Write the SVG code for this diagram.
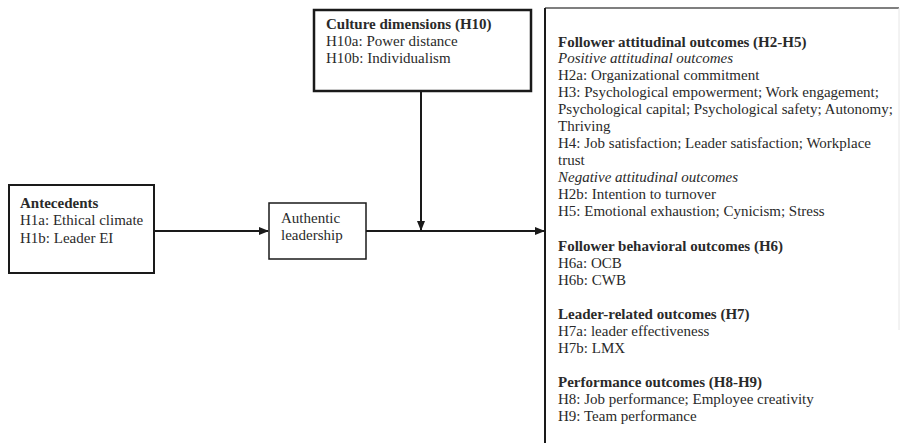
<svg xmlns="http://www.w3.org/2000/svg" width="901" height="443" viewBox="0 0 901 443">
<defs>
<marker id="ah" markerWidth="10" markerHeight="8" refX="9" refY="4" orient="auto" markerUnits="userSpaceOnUse">
<path d="M0,0 L10,4 L0,8 Z" fill="#1a1a1a"/>
</marker>
<style>
text{font-family:"Liberation Serif","Times New Roman",serif;font-size:15px;fill:#2a2a2a}
.b{font-weight:bold}
.i{font-style:italic}
.box{fill:#fff;stroke:#1a1a1a}
.conn{stroke:#1a1a1a;stroke-width:2;fill:none}
</style>
</defs>
<rect width="901" height="443" fill="#fff"/>
<g id="antecedents">
<rect class="box" x="9" y="185" width="145" height="88" stroke-width="2"/>
<text x="20" y="208" class="b">Antecedents</text>
<text x="20" y="225">H1a: Ethical climate</text>
<text x="20" y="243">H1b: Leader EI</text>
</g>
<g id="authentic">
<rect class="box" x="269" y="203" width="97" height="56" stroke-width="1.5"/>
<text x="281" y="223">Authentic</text>
<text x="281" y="240">leadership</text>
</g>
<g id="culture">
<rect class="box" x="314" y="10" width="217" height="81" stroke-width="2.5"/>
<text x="326" y="29" class="b">Culture dimensions (H10)</text>
<text x="326" y="46">H10a: Power distance</text>
<text x="326" y="63">H10b: Individualism</text>
</g>
<g id="outcomes">
<line x1="545" y1="8" x2="899" y2="8" stroke="#555" stroke-width="1.5"/>
<line x1="545" y1="8" x2="545" y2="443" stroke="#1a1a1a" stroke-width="2"/>
<line x1="899" y1="8" x2="899" y2="330" stroke="#e6e6e6" stroke-width="1"/>
<text x="558" y="47" class="b">Follower attitudinal outcomes (H2-H5)</text>
<text x="558" y="63" class="i">Positive attitudinal outcomes</text>
<text x="558" y="80">H2a: Organizational commitment</text>
<text x="558" y="97">H3: Psychological empowerment; Work engagement;</text>
<text x="558" y="114">Psychological capital; Psychological safety; Autonomy;</text>
<text x="558" y="131">Thriving</text>
<text x="558" y="148">H4: Job satisfaction; Leader satisfaction; Workplace</text>
<text x="558" y="165">trust</text>
<text x="558" y="182" class="i">Negative attitudinal outcomes</text>
<text x="558" y="199">H2b: Intention to turnover</text>
<text x="558" y="216">H5: Emotional exhaustion; Cynicism; Stress</text>
<text x="558" y="251" class="b">Follower behavioral outcomes (H6)</text>
<text x="558" y="268">H6a: OCB</text>
<text x="558" y="285">H6b: CWB</text>
<text x="558" y="319" class="b">Leader-related outcomes (H7)</text>
<text x="558" y="336">H7a: leader effectiveness</text>
<text x="558" y="353">H7b: LMX</text>
<text x="558" y="387" class="b">Performance outcomes (H8-H9)</text>
<text x="558" y="404">H8: Job performance; Employee creativity</text>
<text x="558" y="421">H9: Team performance</text>
</g>
<g id="connectors">
<line class="conn" x1="154" y1="231" x2="268" y2="231" marker-end="url(#ah)"/>
<line class="conn" x1="366" y1="231" x2="544" y2="231" marker-end="url(#ah)"/>
<line class="conn" x1="421" y1="91" x2="421" y2="230" marker-end="url(#ah)"/>
</g>
</svg>
